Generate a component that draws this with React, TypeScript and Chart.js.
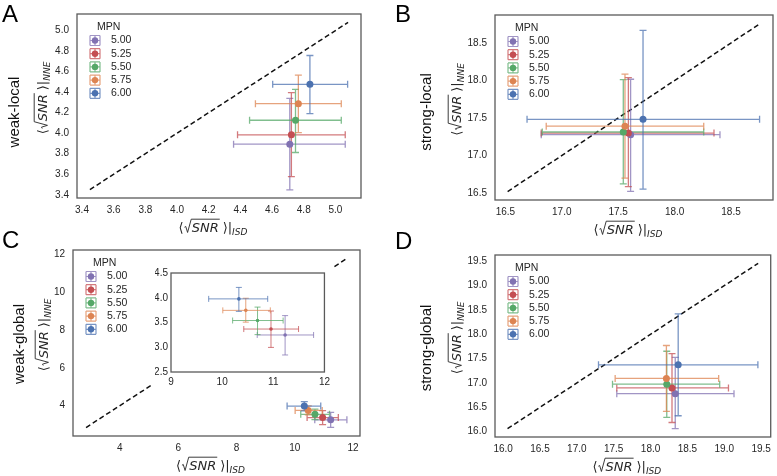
import React, { useEffect, useRef } from "react";
import { Chart, registerables } from "chart.js";
Chart.register(...registerables);

const MPN_LABELS = ["5.00", "5.25", "5.50", "5.75", "6.00"];
const SERIES_COLORS = ["#8172b2", "#c44e52", "#55a868", "#dd8452", "#4c72b0"];

// Panel A: weak-local
const A_X = [4.712, 4.722, 4.748, 4.766, 4.839];
const A_Y = [3.893, 3.984, 4.126, 4.288, 4.476];
const A_XLO = [4.357, 4.382, 4.458, 4.495, 4.604];
const A_XHI = [5.062, 5.062, 5.037, 5.037, 5.077];
const A_YLO = [3.447, 3.576, 3.812, 4.006, 4.191];
const A_YHI = [4.34, 4.395, 4.427, 4.566, 4.757];
const A_DIAG = [3.45, 5.08];
const A_TICKS = [3.4, 3.6, 3.8, 4.0, 4.2, 4.4, 4.6, 4.8, 5.0];

// Panel B: strong-local
const B_X = [17.61, 17.59, 17.545, 17.56, 17.72];
const B_Y = [17.278, 17.3, 17.314, 17.391, 17.482];
const B_XLO = [16.818, 16.818, 16.827, 16.862, 16.692];
const B_XHI = [18.402, 18.349, 18.258, 18.258, 18.753];
const B_YLO = [16.523, 16.586, 16.622, 16.699, 16.554];
const B_YHI = [18.016, 18.038, 18.011, 18.084, 18.667];
const B_DIAG = [16.52, 18.76];
const B_TICKS = [16.5, 17.0, 17.5, 18.0, 18.5];

// Panel C: weak-global
const C_X = [11.231, 10.955, 10.692, 10.462, 10.327];
const C_Y = [3.248, 3.368, 3.54, 3.745, 3.977];
const C_XLO = [10.686, 10.423, 10.205, 10.013, 9.737];
const C_XHI = [11.788, 11.494, 11.192, 10.942, 10.891];
const C_YLO = [2.844, 2.997, 3.255, 3.507, 3.725];
const C_YHI = [3.639, 3.732, 3.811, 3.99, 4.209];
const C_DIAG = [2.84, 11.79];
const C_TICKS = [4, 6, 8, 10, 12];
const C_INSET_XTICKS = [9, 10, 11, 12];
const C_INSET_YTICKS = [2.5, 3.0, 3.5, 4.0, 4.5];

// Panel D: strong-global
const D_X = [18.335, 18.291, 18.22, 18.215, 18.375];
const D_Y = [16.78, 16.899, 16.976, 17.094, 17.373];
const D_XLO = [17.542, 17.542, 17.484, 17.52, 17.294];
const D_XHI = [19.132, 19.057, 18.938, 18.924, 19.456];
const D_YLO = [16.062, 16.188, 16.292, 16.418, 16.327];
const D_YHI = [17.527, 17.603, 17.652, 17.77, 18.419];
const D_DIAG = [16.06, 19.46];
const D_TICKS = [16.0, 16.5, 17.0, 17.5, 18.0, 18.5, 19.0, 19.5];

const TEXT = "#262626";
const FRAME = "#5a5a5a";
const TICK_FONT = { family: "'Liberation Sans', Arial, sans-serif", size: 10 };

function rgba(hex: string, a: number) {
  const n = parseInt(hex.slice(1), 16);
  return `rgba(${(n >> 16) & 255},${(n >> 8) & 255},${n & 255},${a})`;
}

function drawSnrTitle(ctx: CanvasRenderingContext2D, cx: number, cy: number, sub: string, vertical: boolean) {
  const fs = 13;
  ctx.save();
  ctx.translate(cx, cy);
  if (vertical) ctx.rotate(-Math.PI / 2);
  const reg = `${fs}px "DejaVu Sans"`;
  const ita = `italic ${fs}px "DejaVu Sans"`;
  const subF = `italic ${Math.round(fs * 0.7)}px "DejaVu Sans"`;
  ctx.font = reg;
  const wL = ctx.measureText("\u27E8").width;
  const wR = ctx.measureText("\u27E9").width;
  const wBar = ctx.measureText("|").width;
  ctx.font = ita;
  const wS = ctx.measureText("SNR").width;
  ctx.font = subF;
  const wSub = ctx.measureText(sub).width;
  const radW = fs * 0.62;
  const gap = fs * 0.3;
  const total = wL + radW + wS + gap + wR + wBar + wSub;
  let x = -total / 2;
  const base = fs * 0.38;
  ctx.fillStyle = TEXT;
  ctx.strokeStyle = TEXT;
  ctx.textBaseline = "alphabetic";
  ctx.textAlign = "left";
  ctx.font = reg;
  ctx.fillText("\u27E8", x, base);
  x += wL;
  const top = base - fs * 0.98;
  ctx.lineWidth = 0.9;
  ctx.beginPath();
  ctx.moveTo(x + fs * 0.06, base - fs * 0.36);
  ctx.lineTo(x + fs * 0.16, base - fs * 0.42);
  ctx.lineTo(x + fs * 0.3, base + fs * 0.04);
  ctx.lineTo(x + radW - fs * 0.04, top);
  ctx.lineTo(x + radW + wS + 1, top);
  ctx.stroke();
  x += radW;
  ctx.font = ita;
  ctx.fillText("SNR", x, base);
  x += wS + gap;
  ctx.font = reg;
  ctx.fillText("\u27E9", x, base);
  x += wR;
  ctx.fillText("|", x, base);
  x += wBar;
  ctx.font = subF;
  ctx.fillText(sub, x, base + fs * 0.25);
  ctx.restore();
}

type PanelProps = {
  left: number; top: number; w: number; h: number;
  frame: { l: number; t: number; r: number; b: number };
  xs: number[]; ys: number[]; xlo: number[]; xhi: number[]; ylo: number[]; yhi: number[];
  diag: number[] | null; xticks: number[]; yticks: number[]; xdec: number; ydec: number;
  xmin?: number; xmax?: number; ymin?: number; ymax?: number;
  letter?: string; letterPos?: { x: number; y: number };
  row?: string; rowPos?: { x: number; y: number };
  yTitleX?: number; legend?: boolean; markerR: number; cap: number; lw: number;
  yw: number; xh: number; xpad: number; ypad: number; fontSize: number; bg?: string;
};

function Panel(p: PanelProps) {
  const ref = useRef<HTMLCanvasElement>(null);
  useEffect(() => {
    const canvas = ref.current!;
    let xmin = p.xmin, xmax = p.xmax, ymin = p.ymin, ymax = p.ymax;
    if (p.diag) {
      const span = p.diag[1] - p.diag[0];
      xmin = ymin = p.diag[0] - 0.05 * span;
      xmax = ymax = p.diag[1] + 0.05 * span;
    }
    const font = { ...TICK_FONT, size: p.fontSize };
    const deco = {
      id: "deco",
      beforeDatasetsDraw(chart: any) {
        const ctx = chart.ctx as CanvasRenderingContext2D;
        const sx = chart.scales.x, sy = chart.scales.y;
        ctx.save();
        if (p.diag) {
          ctx.strokeStyle = "#111";
          ctx.lineWidth = 1.5;
          ctx.setLineDash([5, 3]);
          ctx.beginPath();
          ctx.moveTo(sx.getPixelForValue(p.diag[0]), sy.getPixelForValue(p.diag[0]));
          ctx.lineTo(sx.getPixelForValue(p.diag[1]), sy.getPixelForValue(p.diag[1]));
          ctx.stroke();
          ctx.setLineDash([]);
        }
        ctx.lineWidth = p.lw;
        for (let i = 0; i < p.xs.length; i++) {
          ctx.strokeStyle = rgba(SERIES_COLORS[i], 0.75);
          const px = sx.getPixelForValue(p.xs[i]);
          const py = sy.getPixelForValue(p.ys[i]);
          const x0 = sx.getPixelForValue(p.xlo[i]);
          const x1 = sx.getPixelForValue(p.xhi[i]);
          const y0 = sy.getPixelForValue(p.ylo[i]);
          const y1 = sy.getPixelForValue(p.yhi[i]);
          ctx.beginPath();
          ctx.moveTo(x0, py); ctx.lineTo(x1, py);
          ctx.moveTo(x0, py - p.cap); ctx.lineTo(x0, py + p.cap);
          ctx.moveTo(x1, py - p.cap); ctx.lineTo(x1, py + p.cap);
          ctx.moveTo(px, y0); ctx.lineTo(px, y1);
          ctx.moveTo(px - p.cap, y0); ctx.lineTo(px + p.cap, y0);
          ctx.moveTo(px - p.cap, y1); ctx.lineTo(px + p.cap, y1);
          ctx.stroke();
        }
        ctx.restore();
      },
      afterDraw(chart: any) {
        const ctx = chart.ctx as CanvasRenderingContext2D;
        const a = chart.chartArea;
        ctx.save();
        ctx.strokeStyle = FRAME;
        ctx.lineWidth = 1.3;
        ctx.strokeRect(a.left, a.top, a.right - a.left, a.bottom - a.top);
        if (p.legend) {
          ctx.fillStyle = TEXT;
          ctx.font = "10.5px 'Liberation Sans', Arial, sans-serif";
          ctx.textBaseline = "middle";
          ctx.textAlign = "left";
          ctx.fillText("MPN", a.left + 20, a.top + 13);
          for (let i = 0; i < MPN_LABELS.length; i++) {
            const cy = a.top + 26.5 + i * 13.2;
            const cx = a.left + 18;
            const s = 5;
            ctx.strokeStyle = rgba(SERIES_COLORS[i], 0.75);
            ctx.lineWidth = 1.2;
            ctx.beginPath();
            ctx.moveTo(cx - s, cy); ctx.lineTo(cx + s, cy);
            ctx.moveTo(cx - s, cy - s); ctx.lineTo(cx - s, cy + s);
            ctx.moveTo(cx + s, cy - s); ctx.lineTo(cx + s, cy + s);
            ctx.moveTo(cx, cy - s); ctx.lineTo(cx, cy + s);
            ctx.moveTo(cx - s, cy - s); ctx.lineTo(cx + s, cy - s);
            ctx.moveTo(cx - s, cy + s); ctx.lineTo(cx + s, cy + s);
            ctx.stroke();
            ctx.fillStyle = SERIES_COLORS[i];
            ctx.beginPath();
            ctx.arc(cx, cy, 3.2, 0, Math.PI * 2);
            ctx.fill();
            ctx.fillStyle = TEXT;
            ctx.font = "10.5px 'Liberation Sans', Arial, sans-serif";
            ctx.fillText(MPN_LABELS[i], a.left + 34, cy);
          }
        }
        if (p.letter && p.letterPos) {
          ctx.fillStyle = "#000";
          ctx.font = "24px 'Liberation Sans', Arial, sans-serif";
          ctx.textBaseline = "alphabetic";
          ctx.textAlign = "left";
          ctx.fillText(p.letter, p.letterPos.x, p.letterPos.y);
        }
        if (p.row && p.rowPos) {
          ctx.save();
          ctx.translate(p.rowPos.x, p.rowPos.y);
          ctx.rotate(-Math.PI / 2);
          ctx.fillStyle = "#111";
          ctx.font = "15px 'Liberation Sans', Arial, sans-serif";
          ctx.textAlign = "center";
          ctx.textBaseline = "middle";
          ctx.fillText(p.row, 0, 0);
          ctx.restore();
        }
        if (p.yTitleX !== undefined) {
          drawSnrTitle(ctx, p.yTitleX, (a.top + a.bottom) / 2 - 8, "NNE", true);
          drawSnrTitle(ctx, (a.left + a.right) / 2 - 6, a.bottom + 29, "ISD", false);
        }
        ctx.restore();
      },
    };
    const chart = new Chart(canvas, {
      type: "scatter",
      data: {
        datasets: MPN_LABELS.map((m, i) => ({
          label: m,
          data: [{ x: p.xs[i], y: p.ys[i] }],
          backgroundColor: SERIES_COLORS[i],
          borderColor: SERIES_COLORS[i],
          pointRadius: p.markerR,
          pointBorderWidth: 0,
          order: 5 - i,
        })),
      },
      options: {
        animation: false,
        responsive: false,
        maintainAspectRatio: false,
        devicePixelRatio: 1,
        events: [],
        layout: {
          padding: {
            left: p.frame.l - p.yw,
            top: p.frame.t,
            right: p.w - p.frame.r,
            bottom: p.h - p.frame.b - p.xh,
          },
        },
        plugins: { legend: { display: false }, tooltip: { enabled: false } },
        scales: {
          x: {
            type: "linear",
            min: xmin,
            max: xmax,
            grid: { display: false, drawTicks: false },
            border: { display: false },
            ticks: {
              font,
              color: TEXT,
              padding: p.xpad,
              autoSkip: false,
              maxRotation: 0,
              callback: (v: any) => Number(v).toFixed(p.xdec),
            },
            afterBuildTicks: (s: any) => {
              s.ticks = p.xticks.map((v) => ({ value: v }));
            },
            afterFit: (s: any) => {
              s.height = p.xh;
            },
          },
          y: {
            type: "linear",
            min: ymin,
            max: ymax,
            grid: { display: false, drawTicks: false },
            border: { display: false },
            ticks: {
              font,
              color: TEXT,
              padding: p.ypad,
              autoSkip: false,
              callback: (v: any) => Number(v).toFixed(p.ydec),
            },
            afterBuildTicks: (s: any) => {
              s.ticks = p.yticks.map((v) => ({ value: v }));
            },
            afterFit: (s: any) => {
              s.width = p.yw;
            },
          },
        },
      },
      plugins: [deco],
    });
    return () => chart.destroy();
  }, []);
  return (
    <canvas
      ref={ref}
      width={p.w}
      height={p.h}
      style={{ position: "absolute", left: p.left, top: p.top, width: p.w, height: p.h, background: p.bg || "transparent" }}
    />
  );
}

export default function App() {
  const common = { markerR: 3.5, cap: 3.5, lw: 1.3, yw: 40, xh: 30, xpad: 6, ypad: 8, fontSize: 10, legend: true };
  return (
    <div style={{ position: "fixed", left: 0, top: 0, width: 777, height: 476, background: "#fff", overflow: "hidden" }}>
      <Panel {...common} left={0} top={0} w={388} h={238} frame={{ l: 77, t: 13, r: 361, b: 198 }}
        xs={A_X} ys={A_Y} xlo={A_XLO} xhi={A_XHI} ylo={A_YLO} yhi={A_YHI} diag={A_DIAG}
        xticks={A_TICKS} yticks={A_TICKS} xdec={1} ydec={1}
        letter="A" letterPos={{ x: 2, y: 22 }} row="weak-local" rowPos={{ x: 15, y: 112 }} yTitleX={42} />
      <Panel {...common} left={388} top={0} w={389} h={238} frame={{ l: 107, t: 15, r: 387, b: 200 }}
        xs={B_X} ys={B_Y} xlo={B_XLO} xhi={B_XHI} ylo={B_YLO} yhi={B_YHI} diag={B_DIAG}
        xticks={B_TICKS} yticks={B_TICKS} xdec={1} ydec={1}
        letter="B" letterPos={{ x: 7, y: 22 }} row="strong-local" rowPos={{ x: 39, y: 112 }} yTitleX={68} />
      <Panel {...common} left={0} top={226} w={388} h={250} frame={{ l: 73, t: 24, r: 360, b: 210 }}
        xs={C_X} ys={C_Y} xlo={C_XLO} xhi={C_XHI} ylo={C_YLO} yhi={C_YHI} diag={C_DIAG}
        xticks={C_TICKS} yticks={C_TICKS} xdec={0} ydec={0}
        letter="C" letterPos={{ x: 2, y: 22 }} row="weak-global" rowPos={{ x: 20, y: 118 }} yTitleX={43} />
      <Panel {...common} left={388} top={226} w={389} h={250} frame={{ l: 107, t: 29, r: 387, b: 211 }}
        xs={D_X} ys={D_Y} xlo={D_XLO} xhi={D_XHI} ylo={D_YLO} yhi={D_YHI} diag={D_DIAG}
        xticks={D_TICKS} yticks={D_TICKS} xdec={1} ydec={1}
        letter="D" letterPos={{ x: 7, y: 23 }} row="strong-global" rowPos={{ x: 39, y: 122 }} yTitleX={68} />
      <Panel markerR={1.8} cap={3} lw={1} yw={16} xh={14} xpad={4} ypad={3} fontSize={10} legend={false}
        left={152} top={264} w={182} h={124} frame={{ l: 19, t: 7, r: 176, b: 108 }}
        xs={C_X} ys={C_Y} xlo={C_XLO} xhi={C_XHI} ylo={C_YLO} yhi={C_YHI} diag={null}
        xmin={9} xmax={12} ymin={2.5} ymax={4.5}
        xticks={C_INSET_XTICKS} yticks={C_INSET_YTICKS} xdec={0} ydec={1} bg="#fff" />
    </div>
  );
}
